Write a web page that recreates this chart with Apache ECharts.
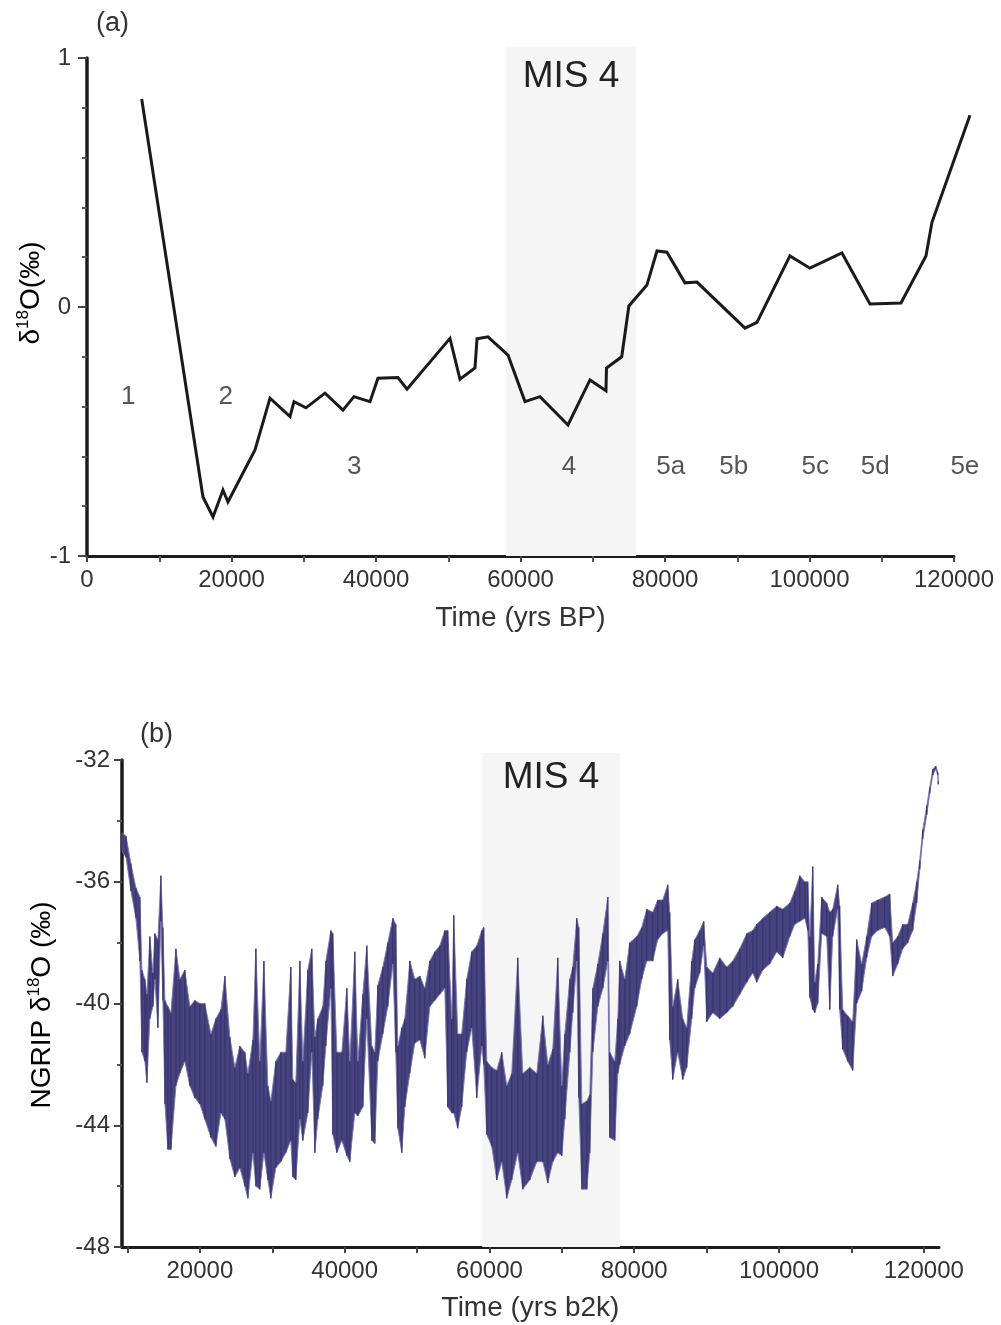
<!DOCTYPE html>
<html><head><meta charset="utf-8">
<script src="https://cdn.jsdelivr.net/npm/echarts@6/dist/echarts.min.js"></script>
<style>html,body{margin:0;padding:0;background:#fff}#c{width:1001px;height:1325px}</style>
</head><body><div id="c"></div>
<script>
// ---------- Panel (a): marine d18O stack ----------
const topAge = [7570,16050,17440,18820,19510,23250,25330,28100,28650,30310,32940,35430,36950,39170,40270,43040,44290,50240,51620,53700,53980,55500,58270,60620,62700,66570,69620,71830,71900,74010,75000,77500,78890,80270,82760,84420,91070,92730,97290,100060,104490,108370,112660,116120,116950,122210];
const topD18O = [0.835,-0.763,-0.843,-0.735,-0.783,-0.574,-0.366,-0.44,-0.38,-0.405,-0.346,-0.414,-0.36,-0.38,-0.286,-0.283,-0.33,-0.126,-0.29,-0.245,-0.128,-0.12,-0.193,-0.38,-0.36,-0.474,-0.293,-0.336,-0.245,-0.2,0.004,0.088,0.225,0.22,0.097,0.1,-0.085,-0.062,0.205,0.156,0.217,0.012,0.016,0.205,0.34,0.77];
const stageNames = ['1','2','3','4','5a','5b','5c','5d','5e'];
const stageAge = [5700,19200,37000,66700,80800,89500,100800,109100,121500];
const stageD18O = [-0.36,-0.36,-0.64,-0.64,-0.64,-0.64,-0.64,-0.64,-0.64];
const mis4BandA = [58000, 76000, -1, 1.045];   // x from, x to, y from, y to
const topXTicks = [0,20000,40000,60000,80000,100000,120000];

// ---------- Panel (b): NGRIP d18O ----------
const mis4BandB = [59000, 78000, -48, -31.77];
const bottomXTicks = [10000,20000,30000,40000,50000,60000,70000,80000,90000,100000,110000,120000];
const bottomXLabels = [20000,40000,60000,80000,100000,120000];
const ngripAge = [9250,9800,10470,11160,11710,11990,12400,12680,13090,13510,13780,14200,14610,14890,15170,15580,16000,16690,17230,17920,18610,19300,19990,20680,21520,22210,22900,23450,24140,24830,25520,26210,26630,27320,27730,28280,28840,29390,29800,30490,31180,31870,32560,32840,33250,33810,34220,34910,35460,35880,36290,36980,37400,38090,38360,38920,39610,40300,40710,41400,41820,42510,43060,43750,44160,44580,45270,45960,46650,47060,47340,47890,48310,49000,49690,50380,51070,51760,52450,53140,53830,54240,54800,55070,55620,56170,56860,57550,58250,58940,59210,59630,60320,61010,61700,62390,63080,63910,64600,65570,66540,67370,68060,68750,69440,69990,70410,71100,71510,72060,72340,72760,73450,73860,74280,74970,75660,76350,76620,77310,77730,78000,78690,79380,80350,81040,81730,82560,83250,83940,84630,84900,85320,86010,86700,87250,87940,88360,89050,89600,90020,90850,91810,92780,93610,94580,95550,96370,96930,97760,98720,99690,100520,101490,102180,102870,103560,103970,104250,104660,104940,105350,105900,106590,107010,107420,108110,108380,108800,109490,110180,110730,111420,112110,112800,113630,114600,115290,115710,116400,117090,117780,118470,119020,119440,119850,120410,120820,121240,121650,121930,122000];
const ngripHigh = [-34.4,-34.5,-35.4,-36.2,-36.5,-38.9,-39.2,-39.7,-37.8,-39.0,-37.7,-37.9,-35.8,-37.5,-39.9,-40.1,-40.3,-38.2,-39.2,-38.9,-40.1,-39.9,-40.0,-40.0,-41.0,-40.5,-40.2,-39.1,-41.1,-42.1,-41.4,-41.6,-42.3,-41.2,-38.2,-41.9,-38.6,-42.7,-43.2,-41.9,-41.6,-41.6,-38.8,-42.5,-42.6,-38.6,-41.9,-38.9,-38.2,-41.1,-40.5,-40.1,-38.6,-37.6,-37.7,-41.6,-41.6,-39.5,-41.9,-38.3,-41.9,-39.7,-38.1,-41.4,-41.6,-39.4,-38.8,-38.0,-37.2,-37.4,-41.4,-40.8,-40.5,-38.6,-39.2,-39.1,-39.5,-38.6,-38.3,-38.1,-37.6,-37.6,-40.5,-37.1,-41.0,-41.0,-39.2,-38.3,-38.1,-37.6,-37.5,-41.9,-42.1,-42.2,-41.6,-42.7,-42.3,-38.5,-42.3,-42.1,-42.3,-40.4,-42.0,-41.5,-38.5,-42.7,-41.0,-39.2,-38.8,-37.2,-37.5,-43.3,-43.2,-43.0,-39.5,-38.7,-37.7,-36.5,-41.6,-41.9,-40.5,-38.6,-39.2,-38.0,-37.8,-37.5,-36.9,-37.0,-36.6,-36.6,-36.1,-37.0,-40.1,-39.2,-40.5,-40.8,-38.6,-37.9,-37.6,-37.3,-38.8,-39.0,-38.5,-38.8,-38.6,-38.2,-37.7,-37.6,-37.4,-37.2,-37.0,-36.8,-36.9,-36.7,-36.3,-35.8,-36.0,-36.0,-37.8,-35.5,-39.3,-38.7,-36.5,-36.7,-37.0,-36.9,-36.1,-36.8,-40.2,-40.4,-40.6,-37.9,-38.7,-37.8,-36.7,-36.6,-36.5,-36.4,-38.0,-37.8,-37.4,-37.4,-36.7,-36.0,-35.3,-34.3,-33.5,-32.9,-32.3,-32.2,-32.4,-32.7];
const ngripLow = [-35.0,-35.2,-36.3,-37.2,-38.6,-41.6,-41.9,-42.6,-40.5,-40.1,-39.2,-40.8,-37.3,-39.9,-43.3,-44.8,-44.8,-42.7,-42.3,-41.9,-42.7,-43.1,-43.3,-43.8,-44.4,-44.7,-43.6,-43.8,-45.1,-45.7,-45.4,-46.0,-46.4,-44.9,-46.0,-46.1,-44.9,-45.8,-46.4,-45.4,-45.2,-44.9,-44.5,-45.7,-45.8,-43.8,-44.5,-43.6,-41.6,-44.9,-43.8,-42.7,-41.4,-39.5,-44.3,-44.9,-44.5,-45.0,-45.2,-43.6,-43.7,-43.4,-40.5,-44.5,-44.6,-41.9,-41.0,-40.1,-38.7,-41.6,-44.1,-44.9,-43.4,-42.3,-41.3,-41.2,-41.8,-40.1,-39.9,-39.7,-39.5,-43.4,-43.6,-43.6,-44.1,-43.4,-41.6,-40.8,-43.1,-41.4,-42.0,-44.3,-44.7,-45.8,-45.2,-46.4,-45.8,-44.9,-46.1,-45.8,-45.2,-45.2,-45.9,-45.2,-44.9,-45.0,-43.8,-41.6,-40.3,-38.6,-43.1,-46.1,-46.1,-44.9,-41.6,-40.1,-39.5,-38.6,-44.4,-44.5,-42.3,-42.0,-41.4,-41.0,-40.1,-39.2,-38.6,-38.6,-37.9,-37.7,-37.6,-41.2,-42.5,-41.6,-42.5,-42.1,-40.5,-39.5,-39.0,-38.1,-40.6,-40.3,-40.5,-40.3,-40.1,-39.7,-39.3,-39.0,-39.3,-38.9,-38.7,-38.3,-38.5,-37.8,-37.4,-37.3,-37.2,-37.6,-39.8,-40.2,-40.3,-40.0,-37.7,-37.8,-40.2,-37.8,-36.9,-40.2,-41.5,-41.9,-42.2,-40.0,-39.6,-38.5,-37.8,-37.6,-37.5,-37.8,-39.1,-38.7,-38.2,-38.0,-37.6,-36.7,-35.6,-34.6,-33.8,-33.1,-32.5,-32.3,-32.5,-32.8];

const FONT = '"Liberation Sans", Arial, Helvetica, sans-serif';
const TXT = '#333333';
const AX = '#1c1c1c';
const plain = v => String(v);
const nameRich = { a: { fontSize: 28, color: TXT, lineHeight: 32, fontFamily: FONT },
                   s: { fontSize: 17, color: TXT, verticalAlign: 'top', lineHeight: 32, fontFamily: FONT } };

function bandRender(labelOffset) {
  return function (params, api) {
    const p0 = api.coord([api.value(0), api.value(3)]);
    const p1 = api.coord([api.value(1), api.value(2)]);
    return {
      type: 'group',
      children: [
        { type: 'rect', shape: { x: p0[0], y: p0[1], width: p1[0] - p0[0], height: p1[1] - p0[1] },
          style: { fill: '#f5f5f5' } },
        { type: 'text', style: { text: 'MIS 4', x: (p0[0] + p1[0]) / 2, y: p0[1] + labelOffset,
          align: 'center', verticalAlign: 'middle', fontSize: 37, fill: '#222', fontFamily: FONT } }
      ]
    };
  };
}

const chart = echarts.init(document.getElementById('c'), null, { renderer: 'canvas' });
const option = {
  animation: false,
  backgroundColor: '#ffffff',
  textStyle: { fontFamily: FONT },
  grid: [
    { left: 87, top: 58, width: 867, height: 498 },
    { left: 122, top: 760, width: 817, height: 487 }
  ],
  xAxis: [
    {
      gridIndex: 0, type: 'value', min: 0, max: 120000, interval: 20000,
      axisLine: { show: true, onZero: false, lineStyle: { color: AX, width: 3 } },
      axisTick: { show: true, length: 6, lineStyle: { color: '#444', width: 2 } },
      minorTick: { show: true, splitNumber: 2, length: 6, lineStyle: { color: '#555', width: 2 } },
      splitLine: { show: false },
      axisLabel: { fontSize: 24, color: TXT, margin: 12, formatter: plain },
      name: 'Time (yrs BP)', nameLocation: 'middle', nameGap: 48, nameMoveOverlap: false,
      nameTextStyle: { fontSize: 28, color: TXT }
    },
    {
      gridIndex: 1, type: 'value', min: 9240, max: 122100,
      axisLine: { show: true, onZero: false, lineStyle: { color: AX, width: 3 } },
      axisTick: { show: true, length: 6, customValues: bottomXTicks, lineStyle: { color: '#444', width: 2 } },
      splitLine: { show: false },
      axisLabel: { fontSize: 24, color: TXT, margin: 12, customValues: bottomXLabels, formatter: plain },
      name: 'Time (yrs b2k)', nameLocation: 'middle', nameGap: 47, nameMoveOverlap: false,
      nameTextStyle: { fontSize: 28, color: TXT }
    }
  ],
  yAxis: [
    {
      gridIndex: 0, type: 'value', min: -1, max: 1, interval: 1,
      axisLine: { show: true, onZero: false, lineStyle: { color: AX, width: 3.5 } },
      axisTick: { show: true, length: 9, lineStyle: { color: '#444', width: 2 } },
      minorTick: { show: true, splitNumber: 5, length: 5, lineStyle: { color: '#555', width: 2 } },
      splitLine: { show: false },
      axisLabel: { fontSize: 24, color: TXT, margin: 16, formatter: plain }
    },
    {
      gridIndex: 1, type: 'value', min: -48, max: -32, interval: 4,
      axisLine: { show: true, onZero: false, lineStyle: { color: AX, width: 3.5 } },
      axisTick: { show: true, length: 8, lineStyle: { color: '#444', width: 2 } },
      minorTick: { show: true, splitNumber: 2, length: 5, lineStyle: { color: '#555', width: 2 } },
      splitLine: { show: false },
      axisLabel: { fontSize: 24, color: TXT, margin: 12, formatter: plain }
    }
  ],
  graphic: [
    { type: 'text', left: 96, top: 10, style: { text: '(a)', fontSize: 27, fill: TXT, fontFamily: FONT } },
    { type: 'text', left: 140, top: 721, style: { text: '(b)', fontSize: 27, fill: TXT, fontFamily: FONT } },
    { type: 'text', x: 31, y: 293, rotation: Math.PI / 2,
      style: { text: '{a|δ}{s|18}{a|O(‰)}', rich: nameRich, align: 'center', verticalAlign: 'middle' } },
    { type: 'text', x: 42, y: 1005, rotation: Math.PI / 2,
      style: { text: '{a|NGRIP δ}{s|18}{a|O (‰)}', rich: nameRich, align: 'center', verticalAlign: 'middle' } }
  ],
  series: [
    {
      type: 'custom', xAxisIndex: 0, yAxisIndex: 0, clip: false, z: 1, silent: true,
      renderItem: bandRender(30),
      data: [mis4BandA]
    },
    {
      // marine stack curve (custom polyline so it may run past the 120000 axis end, as in the original)
      type: 'custom', xAxisIndex: 0, yAxisIndex: 0, clip: false, z: 3, silent: true,
      renderItem: function (params, api) {
        if (params.dataIndex !== 0) return null;
        const pts = topAge.map((t, i) => api.coord([t, topD18O[i]]));
        return { type: 'polyline', shape: { points: pts },
                 style: { stroke: '#1a1a1a', lineWidth: 3, fill: null, lineJoin: 'miter' } };
      },
      data: topAge.map((t, i) => [t, topD18O[i]])
    },
    {
      type: 'scatter', xAxisIndex: 0, yAxisIndex: 0, clip: false, z: 4,
      symbolSize: 1, itemStyle: { color: 'rgba(0,0,0,0)' },
      label: { show: true, position: 'inside', fontSize: 26, color: '#2a2a2a', fontFamily: FONT,
               formatter: p => stageNames[p.dataIndex] },
      data: stageAge.map((t, i) => [t, stageD18O[i]])
    },
    {
      type: 'custom', xAxisIndex: 1, yAxisIndex: 1, clip: false, z: 1, silent: true,
      renderItem: bandRender(25),
      data: [mis4BandB]
    },
    {
      // NGRIP envelope fill
      type: 'custom', xAxisIndex: 1, yAxisIndex: 1, z: 2, silent: true,
      renderItem: function (params, api) {
        if (params.dataIndex !== 0) return null;
        const pts = [];
        for (let i = 0; i < ngripAge.length; i++) pts.push(api.coord([ngripAge[i], ngripHigh[i]]));
        for (let i = ngripAge.length - 1; i >= 0; i--) pts.push(api.coord([ngripAge[i], ngripLow[i]]));
        return { type: 'polygon', shape: { points: pts },
                 style: { fill: '#46447e', stroke: 'rgba(125,120,172,0.9)', lineWidth: 1 } };
      },
      data: ngripAge.map((t, i) => [t, ngripHigh[i], ngripLow[i]])
    },
    {
      // NGRIP high-frequency range strokes
      type: 'custom', xAxisIndex: 1, yAxisIndex: 1, z: 3, silent: true,
      renderItem: function (params, api) {
        const a = api.coord([api.value(0), api.value(1)]);
        const b = api.coord([api.value(0), api.value(2)]);
        return { type: 'line', shape: { x1: a[0], y1: a[1], x2: b[0], y2: b[1] },
                 style: { stroke: '#36346e', lineWidth: 1.2 } };
      },
      data: ngripAge.map((t, i) => [t, ngripHigh[i], ngripLow[i]])
    }
  ]
};
chart.setOption(option);
</script>
</body></html>
